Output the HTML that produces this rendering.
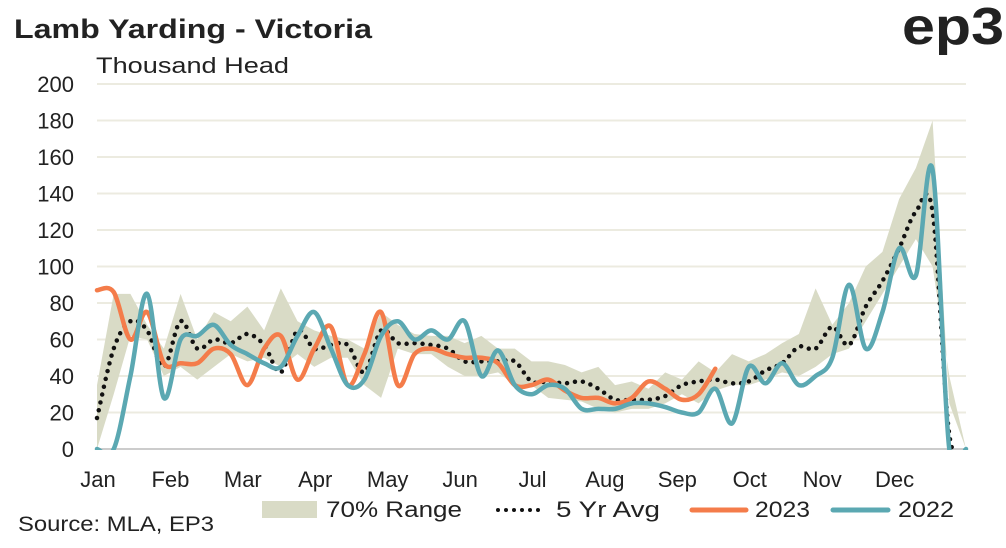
<!DOCTYPE html>
<html><head><meta charset="utf-8"><style>
body{margin:0;background:#fff;font-family:"Liberation Sans",sans-serif}
svg text{font-family:"Liberation Sans",sans-serif;fill:#222}
</style></head><body>
<svg width="1006" height="543" viewBox="0 0 1006 543">
<defs><clipPath id="pc"><rect x="90" y="60" width="890" height="390"/></clipPath></defs>
<text x="14" y="38" font-size="27" font-weight="bold" fill="#111" textLength="358" lengthAdjust="spacingAndGlyphs">Lamb Yarding - Victoria</text>
<text x="902" y="44" font-size="52" font-weight="bold" fill="#111" textLength="102" lengthAdjust="spacingAndGlyphs">ep3</text>
<text x="96" y="73" font-size="22" textLength="193" lengthAdjust="spacingAndGlyphs">Thousand Head</text>
<g id="grid"></g><g id="plot" clip-path="url(#pc)"></g><g id="axes"></g>
<g>
<rect x="262" y="501" width="55" height="17" fill="#d9dbc6"/>
<text x="326" y="517" font-size="22" textLength="136" lengthAdjust="spacingAndGlyphs">70% Range</text>
<line x1="498" y1="510" x2="546" y2="510" stroke="#111" stroke-width="4" stroke-linecap="round" stroke-dasharray="0 8"/>
<text x="556" y="517" font-size="22" textLength="104" lengthAdjust="spacingAndGlyphs">5 Yr Avg</text>
<line x1="692" y1="510" x2="746" y2="510" stroke="#f47c4a" stroke-width="5" stroke-linecap="round"/>
<text x="755" y="517" font-size="22" textLength="55" lengthAdjust="spacingAndGlyphs">2023</text>
<line x1="833" y1="510" x2="888" y2="510" stroke="#5ba8b2" stroke-width="5" stroke-linecap="round"/>
<text x="898" y="517" font-size="22" textLength="56" lengthAdjust="spacingAndGlyphs">2022</text>
</g>
<text x="18" y="531" font-size="21" textLength="196" lengthAdjust="spacingAndGlyphs">Source: MLA, EP3</text>
</svg>
<script>
const months=["Jan","Feb","Mar","Apr","May","Jun","Jul","Aug","Sep","Oct","Nov","Dec"];
const yTicks=[0,20,40,60,80,100,120,140,160,180,200];
const avg5=[17,55,70,65,45,70,55,60,58,63,57,42,65,55,57,57,42,65,58,58,57,55,48,48,48,48,37,37,36,37,33,27,27,27,29,35,37,38,36,37,43,47,56,55,67,57,78,92,110,130,130,8,0];
const rangeHigh=[35,85,85,68,55,85,60,75,70,78,65,88,70,65,62,60,55,75,68,63,62,62,58,62,55,55,48,48,46,42,45,35,37,33,42,38,48,42,52,48,52,58,63,88,68,80,100,108,137,154,180,25,0];
const rangeLow=[0,30,62,60,40,45,38,45,52,48,50,45,52,45,50,50,35,28,55,52,52,45,40,40,42,35,35,28,27,26,22,20,22,22,25,30,25,32,35,35,38,42,40,45,52,55,70,85,100,115,100,40,0];
const y2023=[87,86,60,75,47,47,47,55,52,35,55,62,38,55,67,35,52,75,35,52,55,52,50,50,47,35,35,38,32,28,28,25,28,37,33,27,30,44];
const y2022=[0,0,40,85,28,60,62,68,57,52,47,45,62,75,55,35,38,62,70,60,65,60,70,40,54,35,30,35,33,22,22,22,25,25,23,20,20,33,14,45,36,47,35,40,50,90,55,75,110,95,153,0,0];
const NS="http://www.w3.org/2000/svg";
const x0=97,x1=966,y0=449,yTop=84;
const xs=i=>x0+i*(x1-x0)/52;
const ys=v=>y0-(v/200)*(y0-yTop);
function mk(t,a,p){const e=document.createElementNS(NS,t);for(const k in a)e.setAttribute(k,a[k]);p.appendChild(e);return e;}
function smooth(pts){let d="M"+pts[0][0]+","+pts[0][1];for(let i=0;i<pts.length-1;i++){const p0=pts[i-1]||pts[i],p1=pts[i],p2=pts[i+1],p3=pts[i+2]||p2;
d+=" C"+(p1[0]+(p2[0]-p0[0])/6)+","+(p1[1]+(p2[1]-p0[1])/6)+" "+(p2[0]-(p3[0]-p1[0])/6)+","+(p2[1]-(p3[1]-p1[1])/6)+" "+p2[0]+","+p2[1];}return d;}
const grid=document.getElementById('grid'),plot=document.getElementById('plot'),axes=document.getElementById('axes');
yTicks.forEach(v=>{
 const l=mk('line',{x1:x0,x2:x1,y1:ys(v),y2:ys(v),stroke:v===0?'#ccc':'#ecebe0','stroke-width':2},grid);
 
 
 const t=mk('text',{x:74,y:ys(v)+8,'font-size':22,'text-anchor':'end'},axes);t.textContent=v;
 
 
});
months.forEach((m,i)=>{
 const t=mk('text',{x:x0+i*(x1-x0)/12+1,y:487,'font-size':22,'text-anchor':'middle'},axes);t.textContent=m;
 
 
});
let rd="M"+rangeHigh.map((v,i)=>xs(i)+","+ys(v)).join(" L");
for(let i=rangeLow.length-1;i>=0;i--)rd+=" L"+xs(i)+","+ys(rangeLow[i]);
const area=mk('path',{d:rd+"Z",fill:'#d9dbc6'},plot);


const av=mk('path',{d:smooth(avg5.map((v,i)=>[xs(i),ys(v)])),fill:'none',stroke:'#111','stroke-width':4.5,'stroke-linecap':'round','stroke-dasharray':'0 8'},plot);


const l23=mk('path',{d:smooth(y2023.map((v,i)=>[xs(i),ys(v)])),fill:'none',stroke:'#f47c4a','stroke-width':4.5,'stroke-linecap':'round'},plot);


const l22=mk('path',{d:smooth(y2022.map((v,i)=>[xs(i),ys(v)])),fill:'none',stroke:'#5ba8b2','stroke-width':4.5,'stroke-linecap':'round'},plot);


</script>
</body></html>
